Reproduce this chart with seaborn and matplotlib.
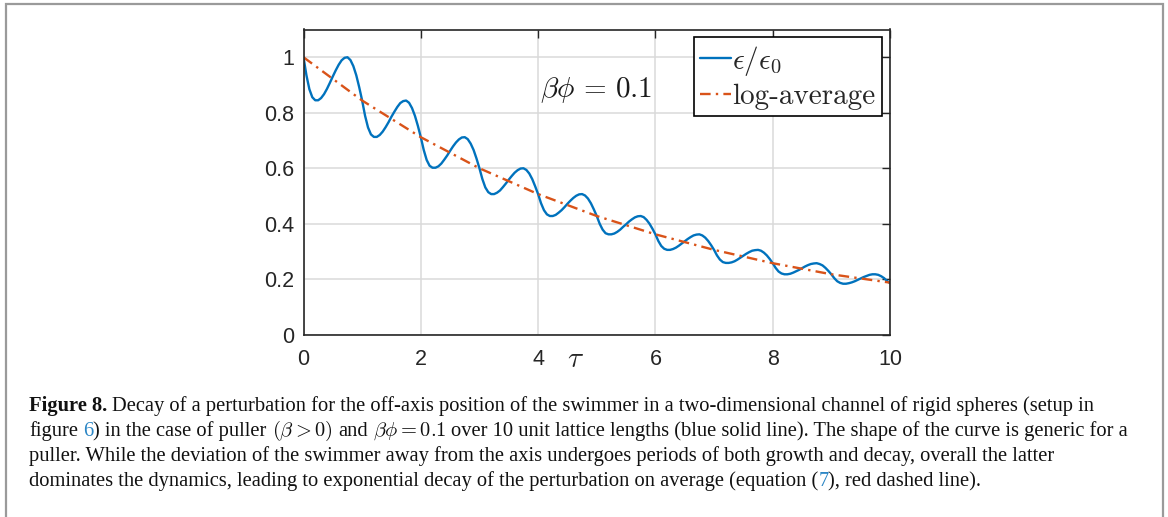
import matplotlib
matplotlib.use("Agg")
import matplotlib.pyplot as plt
import numpy as np
import pandas as pd
import seaborn as sns
from matplotlib.patches import Rectangle

TAU = np.round(np.arange(201) * 0.05, 2)
EPS_RATIO = [
    1.000, 0.935, 0.885, 0.856, 0.845, 0.845, 0.853, 0.867, 0.886, 0.908,
    0.931, 0.953, 0.973, 0.989, 0.998, 1.000, 0.990, 0.968, 0.935, 0.892,
    0.844, 0.789, 0.747, 0.722, 0.713, 0.713, 0.720, 0.732, 0.748, 0.766,
    0.786, 0.804, 0.821, 0.835, 0.842, 0.844, 0.836, 0.817, 0.789, 0.753,
    0.712, 0.666, 0.630, 0.609, 0.602, 0.602, 0.607, 0.617, 0.631, 0.646,
    0.663, 0.679, 0.693, 0.704, 0.711, 0.712, 0.705, 0.689, 0.666, 0.635,
    0.600, 0.561, 0.531, 0.514, 0.507, 0.507, 0.512, 0.520, 0.532, 0.545,
    0.559, 0.572, 0.584, 0.593, 0.599, 0.600, 0.594, 0.581, 0.561, 0.535,
    0.507, 0.474, 0.449, 0.434, 0.428, 0.428, 0.432, 0.440, 0.449, 0.460,
    0.472, 0.483, 0.493, 0.501, 0.506, 0.507, 0.502, 0.491, 0.474, 0.452,
    0.428, 0.400, 0.379, 0.366, 0.362, 0.362, 0.365, 0.371, 0.379, 0.389,
    0.398, 0.408, 0.416, 0.423, 0.427, 0.428, 0.424, 0.414, 0.400, 0.382,
    0.362, 0.338, 0.320, 0.310, 0.306, 0.306, 0.309, 0.314, 0.321, 0.329,
    0.337, 0.345, 0.352, 0.358, 0.361, 0.362, 0.358, 0.350, 0.338, 0.323,
    0.306, 0.286, 0.271, 0.262, 0.259, 0.259, 0.261, 0.265, 0.271, 0.278,
    0.285, 0.292, 0.298, 0.303, 0.305, 0.306, 0.303, 0.296, 0.286, 0.273,
    0.258, 0.241, 0.228, 0.221, 0.218, 0.218, 0.220, 0.224, 0.229, 0.234,
    0.240, 0.246, 0.251, 0.255, 0.257, 0.258, 0.255, 0.250, 0.241, 0.230,
    0.218, 0.204, 0.193, 0.187, 0.184, 0.184, 0.186, 0.189, 0.193, 0.198,
    0.203, 0.208, 0.212, 0.216, 0.218, 0.218, 0.216, 0.211, 0.204, 0.194,
    0.186,
]

# red log-average, read at integer tau
AVG_TAU = [0, 1, 2, 3, 4, 5, 6, 7, 8, 9, 10]
LOG_AVG = [1.0, 0.844, 0.712, 0.600, 0.507, 0.428, 0.362, 0.306, 0.258, 0.218, 0.188]

X_TICKS = [0, 2, 4, 6, 8, 10]
Y_TICKS = [0, 0.2, 0.4, 0.6, 0.8, 1.0]
Y_TICK_LABELS = ["0", "0.2", "0.4", "0.6", "0.8", "1"]
LEGEND_LABELS = [r"$\epsilon/\epsilon_0$", "log-average"]
ANNOTATION = r"$\beta\phi\,=\,0.1$"

# caption: (text, style, space after)
CAPTION = [
    [("Figure 8.", "bold", True),
     ("Decay of a perturbation for the off-axis position of the swimmer in a two-dimensional "
      "channel of rigid spheres (setup in", "normal", False)],
    [("figure", "normal", True), ("6", "link", False),
     (") in the case of puller", "normal", True), (r"$(\beta > 0)$", "normal", True),
     ("and", "normal", True), (r"$\beta\phi = 0.1$", "normal", True),
     ("over 10 unit lattice lengths (blue solid line). The shape of the curve is generic for a",
      "normal", False)],
    [("puller. While the deviation of the swimmer away from the axis undergoes periods of both "
      "growth and decay, overall the latter", "normal", False)],
    [("dominates the dynamics, leading to exponential decay of the perturbation on average "
      "(equation (", "normal", False), ("7", "link", False), ("), red dashed line).", "normal", False)],
]

BLUE = "#0072BD"
ORANGE = "#D95319"
LINK = "#2b86c5"

sns.set_style("white")
plt.rcParams["mathtext.fontset"] = "cm"
plt.rcParams["font.family"] = ["Liberation Sans", "DejaVu Sans"]

W, H = 1168, 517
fig = plt.figure(figsize=(W / 100, H / 100), dpi=100)
ax = fig.add_axes([303.5 / W, 1 - 334.8 / H, 586.5 / W, 305.3 / H])

df = pd.DataFrame({"tau": TAU, "eps": EPS_RATIO})
avg = pd.DataFrame({"tau": AVG_TAU, "avg": LOG_AVG})
sns.lineplot(data=df, x="tau", y="eps", ax=ax, color=BLUE, linewidth=1.7,
             label=LEGEND_LABELS[0])
sns.lineplot(data=avg, x="tau", y="avg", ax=ax, color=ORANGE, linewidth=1.7,
             linestyle=(0, (4.5, 2.2, 1.0, 2.2)), label=LEGEND_LABELS[1])

ax.set_xlim(0, 10)
ax.set_ylim(0, 1.1)
ax.set_xticks(X_TICKS)
ax.set_xticklabels([str(t) for t in X_TICKS])
ax.set_yticks(Y_TICKS)
ax.set_yticklabels(Y_TICK_LABELS)
ax.tick_params(direction="in", top=True, right=True, length=6, width=1.0,
               labelsize=15.5, colors="#262626", pad=7)
ax.tick_params(axis="x", pad=10)
ax.grid(True, color="#dadada", linewidth=1.1)
ax.set_axisbelow(True)
for sp in ax.spines.values():
    sp.set_color("#262626")
    sp.set_linewidth(1.2)

ax.set_xlabel(r"$\tau$", fontsize=21, color="#262626")
ax.xaxis.set_label_coords(0.463, -0.035)
ax.set_ylabel("")

ax.text(4.99, 0.882, ANNOTATION, fontsize=21, ha="center", va="center", color="#1a1a1a")

handles, labels = ax.get_legend_handles_labels()
leg = ax.legend(handles, labels, loc="upper right", bbox_to_anchor=(0.986, 0.975),
                frameon=True, fancybox=False, edgecolor="black", framealpha=1,
                prop={"family": "cmr10", "size": 21}, handlelength=1.05,
                handletextpad=0.05, borderpad=0.22, labelspacing=0.2, borderaxespad=0)
leg.get_frame().set_linewidth(1.2)

# outer frame of the figure panel
fig.add_artist(Rectangle((6 / W, -0.05), 1157 / W, 1 - 4 / H + 0.05,
                         transform=fig.transFigure, fill=False,
                         edgecolor="#9a9a9a", linewidth=1.6))

# caption, drawn piece by piece
renderer = fig.canvas.get_renderer()
cap_font = {"family": ["Liberation Serif", "DejaVu Serif"], "size": 14.75}
probe1 = fig.text(0, 0, "x x", fontdict=cap_font)
probe2 = fig.text(0, 0, "xx", fontdict=cap_font)
space = (probe1.get_window_extent(renderer).width
         - probe2.get_window_extent(renderer).width)
probe1.remove()
probe2.remove()

baselines = [411, 436, 461, 486]
for line, yb in zip(CAPTION, baselines):
    xpos = 29.0
    for text, style, gap in line:
        t = fig.text(xpos / W, 1 - yb / H, text, fontdict=cap_font, va="baseline",
                     ha="left", color=LINK if style == "link" else "#111111",
                     fontweight="bold" if style == "bold" else "normal")
        xpos += t.get_window_extent(renderer).width
        if gap:
            xpos += space

fig.savefig("out.png", dpi=100)
